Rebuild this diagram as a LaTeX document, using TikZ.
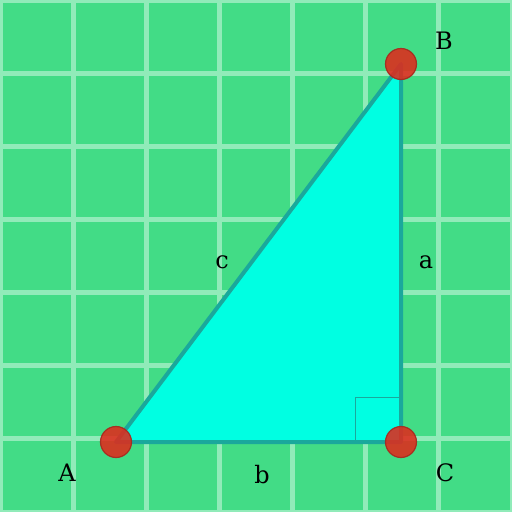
\documentclass[tikz,border=0pt]{standalone}
\usepackage{fontspec}
\setmainfont{DejaVu Serif}
\begin{document}
\begin{tikzpicture}[x=1pt,y=-1pt,
  gridline/.style={draw=white!42!gridgreen, line width=5pt},
  side/.style={draw=edgecol, line width=4pt, line join=round},
  pt/.style={circle, minimum size=31pt, inner sep=0pt, fill=dotred, fill opacity=0.88, draw=dotedge, draw opacity=0.9, line width=1.2pt},
  lbl/.style={font=\fontsize{24}{24}\selectfont, text=black, inner sep=0pt}]
\definecolor{gridgreen}{HTML}{42DC86}
\definecolor{edgecol}{HTML}{1AA89C}
\definecolor{tri}{HTML}{00FFE2}
\definecolor{dotred}{HTML}{E02A1C}
\definecolor{dotedge}{HTML}{A8281E}
\fill[gridgreen] (0,0) rectangle (512,512);
\useasboundingbox (0,0) rectangle (512,512);
\foreach \k in {0,...,7} {
  \draw[gridline] ({\k*512/7},0) -- ({\k*512/7},512);
  \draw[gridline] (0,{\k*512/7}) -- (512,{\k*512/7});
}
\coordinate (A) at (116,442);
\coordinate (B) at (401,64);
\coordinate (C) at (401,442);
\fill[tri] (A) -- (B) -- (C) -- cycle;
\draw[edgecol, line width=0.8pt] (355,442) -- (355,397) -- (401,397);
\draw[side] (A) -- (B) -- (C) -- cycle;
\node[pt] (pA) at (A) {};
\node[pt] (pB) at (B) {};
\node[pt] (pC) at (C) {};
\node[lbl] (lA) at (67,473) {A};
\node[lbl] (lB) at (444,41) {B};
\node[lbl] (lC) at (445,473) {C};
\node[lbl] (la) at (426,262) {a};
\node[lbl] (lb) at (262,475) {b};
\node[lbl] (lc) at (222,262) {c};
\end{tikzpicture}
\end{document}
